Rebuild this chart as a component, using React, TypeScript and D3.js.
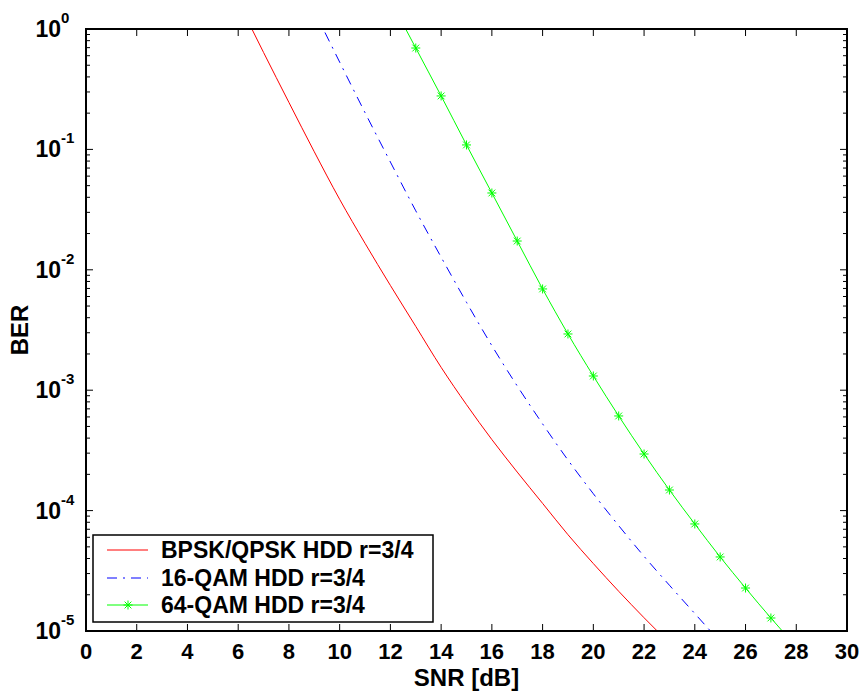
import React from "react";
import * as d3 from "d3";

// SNR [dB] and log10(BER)
const bpskSnr = [6, 7, 8, 9, 10, 11, 12, 13, 14, 15, 16, 17, 18, 19, 20, 21, 22, 23];
const bpskLogBer = [0.23, -0.195, -0.61, -1.02, -1.415, -1.78, -2.13, -2.47, -2.81, -3.12, -3.41, -3.68, -3.94, -4.2, -4.44, -4.67, -4.89, -5.1];

const qam16Snr = [9, 10, 11, 12, 13, 14, 15, 16, 17, 18, 19, 20, 21, 22, 23, 24, 25];
const qam16LogBer = [0.15, -0.275, -0.695, -1.105, -1.51, -1.895, -2.27, -2.63, -2.965, -3.28, -3.58, -3.86, -4.125, -4.38, -4.62, -4.855, -5.09];

const qam64Snr = [12, 13, 14, 15, 16, 17, 18, 19, 20, 21, 22, 23, 24, 25, 26, 27, 28];
const qam64LogBer = [0.24, -0.158, -0.556, -0.963, -1.362, -1.761, -2.159, -2.533, -2.882, -3.214, -3.53, -3.829, -4.111, -4.385, -4.643, -4.892, -5.13];
const qam64MarkerSnr = [13, 14, 15, 16, 17, 18, 19, 20, 21, 22, 23, 24, 25, 26, 27];

const xTicks = [0, 2, 4, 6, 8, 10, 12, 14, 16, 18, 20, 22, 24, 26, 28, 30];
const yExponents = [0, -1, -2, -3, -4, -5];
const legendLabels = ["BPSK/QPSK HDD r=3/4", "16-QAM HDD r=3/4", "64-QAM HDD r=3/4"];

const W = 865, H = 691;
const L = 86, R = 847, T = 29, B = 631;
const FONT = "'Liberation Sans', Arial, sans-serif";

export default function App() {
  const x = d3.scaleLinear().domain([0, 30]).range([L, R]);
  const y = d3.scaleLog().domain([1e-5, 1]).range([B, T]);

  const mk = (snr: number[], lg: number[]) =>
    snr.map((s, i) => [s, Math.pow(10, lg[i])] as [number, number]);
  const line = d3.line<[number, number]>().x(d => x(d[0])).y(d => y(d[1])).curve(d3.curveMonotoneX);

  const red = mk(bpskSnr, bpskLogBer);
  const blue = mk(qam16Snr, qam16LogBer);
  const green = mk(qam64Snr, qam64LogBer);
  const markers = green.filter(d => qam64MarkerSnr.includes(d[0]));

  const minorTicks: number[] = [];
  for (let e = -5; e < 0; e++) for (let m = 2; m <= 9; m++) minorTicks.push(m * Math.pow(10, e));

  const star = (cx: number, cy: number, key: string, r = 4.5) => (
    <g key={key} stroke="#00ff00" strokeWidth={1}>
      <line x1={cx - r} y1={cy} x2={cx + r} y2={cy} />
      <line x1={cx} y1={cy - r} x2={cx} y2={cy + r} />
      <line x1={cx - r * 0.75} y1={cy - r * 0.75} x2={cx + r * 0.75} y2={cy + r * 0.75} />
      <line x1={cx - r * 0.75} y1={cy + r * 0.75} x2={cx + r * 0.75} y2={cy - r * 0.75} />
    </g>
  );

  const legX = 93, legY = 535, legW = 340, legH = 87;
  const rowY = [550, 578, 605];

  return (
    <div style={{ position: "absolute", left: 0, top: 0 }}>
      <svg width={W} height={H} style={{ display: "block", background: "#fff" }} fontFamily={FONT}>
        <rect x={0} y={0} width={W} height={H} fill="#fff" />
        <defs>
          <clipPath id="plotclip">
            <rect x={L} y={T} width={R - L} height={B - T} />
          </clipPath>
        </defs>
        {/* ticks */}
        {xTicks.map(t => (
          <g key={"xt" + t} stroke="#000" strokeWidth={1}>
            <line x1={x(t)} y1={B} x2={x(t)} y2={B - 7} />
            <line x1={x(t)} y1={T} x2={x(t)} y2={T + 7} />
          </g>
        ))}
        {yExponents.map(e => (
          <g key={"yt" + e} stroke="#000" strokeWidth={1}>
            <line x1={L} y1={y(Math.pow(10, e))} x2={L + 7} y2={y(Math.pow(10, e))} />
            <line x1={R} y1={y(Math.pow(10, e))} x2={R - 7} y2={y(Math.pow(10, e))} />
          </g>
        ))}
        {minorTicks.map((v, i) => (
          <g key={"mt" + i} stroke="#000" strokeWidth={1}>
            <line x1={L} y1={y(v)} x2={L + 4} y2={y(v)} />
            <line x1={R} y1={y(v)} x2={R - 4} y2={y(v)} />
          </g>
        ))}
        {/* curves */}
        <g clipPath="url(#plotclip)" fill="none">
          <path d={line(red) || ""} stroke="#ff0000" strokeWidth={1} />
          <path d={line(blue) || ""} stroke="#0000ff" strokeWidth={1} strokeDasharray="10,6,2,6" />
          <path d={line(green) || ""} stroke="#00ff00" strokeWidth={1} />
          {markers.map((d, i) => star(x(d[0]), y(d[1]), "m" + i))}
        </g>
        {/* frame */}
        <rect x={L} y={T} width={R - L} height={B - T} fill="none" stroke="#000" strokeWidth={2} />
        {/* tick labels */}
        {xTicks.map(t => (
          <text key={"xl" + t} x={x(t)} y={659} textAnchor="middle" fontSize={22} fontWeight="bold" fill="#000">
            {t}
          </text>
        ))}
        {yExponents.map(e => {
          const yy = y(Math.pow(10, e));
          return (
            <g key={"yl" + e} fill="#000" fontWeight="bold">
              <text x={61} y={yy + 8} textAnchor="end" fontSize={23}>10</text>
              <text x={61} y={yy - 6} textAnchor="start" fontSize={15}>{String(e)}</text>
            </g>
          );
        })}
        {/* axis labels */}
        <text x={(L + R) / 2} y={686} textAnchor="middle" fontSize={24} fontWeight="bold" fill="#000">SNR [dB]</text>
        <text transform={`translate(28,${(T + B) / 2}) rotate(-90)`} textAnchor="middle" fontSize={24} fontWeight="bold" fill="#000">BER</text>
        {/* legend */}
        <rect x={legX} y={legY} width={legW} height={legH} fill="#fff" stroke="#000" strokeWidth={1.5} />
        <line x1={107} y1={rowY[0]} x2={148} y2={rowY[0]} stroke="#ff0000" strokeWidth={1} />
        <line x1={107} y1={rowY[1]} x2={148} y2={rowY[1]} stroke="#0000ff" strokeWidth={1} strokeDasharray="10,6,2,6" />
        <line x1={107} y1={rowY[2]} x2={148} y2={rowY[2]} stroke="#00ff00" strokeWidth={1} />
        {star(128, rowY[2], "legstar")}
        {legendLabels.map((s, i) => (
          <text key={"lg" + i} x={161} y={rowY[i] + 8} fontSize={23} fontWeight="bold" fill="#000">{s}</text>
        ))}
      </svg>
    </div>
  );
}
